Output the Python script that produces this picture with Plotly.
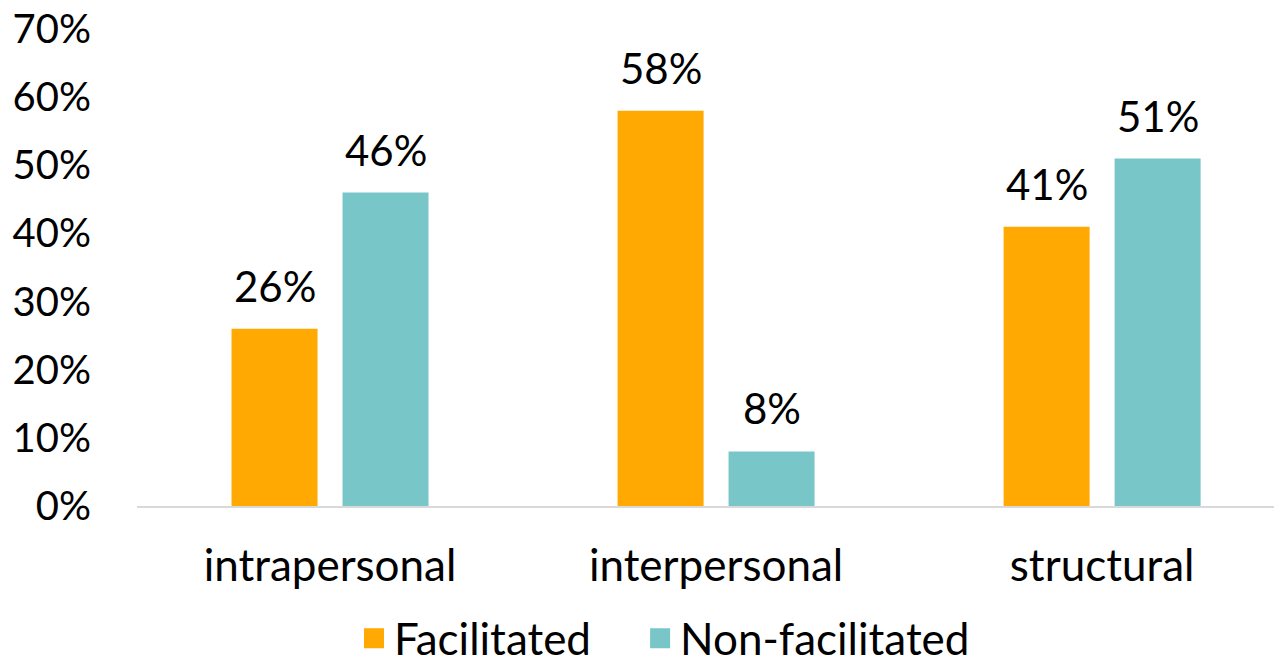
import plotly.graph_objects as go

categories = ["intrapersonal", "interpersonal", "structural"]
facilitated = [0.26, 0.58, 0.41]
non_facilitated = [0.46, 0.08, 0.51]
series_names = ["Facilitated", "Non-facilitated"]
tick_vals = [0, 0.1, 0.2, 0.3, 0.4, 0.5, 0.6, 0.7]

ORANGE = "#FFA902"
TEAL = "#79C6C9"
FONT = "Lato"

fig = go.Figure()
for name, vals, col, leg in [(series_names[0], facilitated, ORANGE, "legend"),
                             (series_names[1], non_facilitated, TEAL, "legend2")]:
    fig.add_trace(go.Bar(x=categories, y=vals, name=name, marker=dict(color=col, line=dict(width=0)),
                         showlegend=False))
    fig.add_trace(go.Scatter(x=[None], y=[None], mode="markers", name=name, legend=leg,
                             marker=dict(symbol="square", size=23, color=col,
                                         line=dict(color=col, width=4)),
                             showlegend=True))

annotations = []
for vals, shift in [(facilitated, -55.5), (non_facilitated, 55.5)]:
    for c, v in zip(categories, vals):
        annotations.append(dict(x=c, y=v, xref="x", yref="y", text=f"{round(v*100)}%",
                                showarrow=False, xshift=shift, yshift=16, yanchor="bottom",
                                font=dict(family=FONT, size=42, color="#000000")))

legend_common = dict(orientation="h", xanchor="left", y=-0.278, yanchor="middle",
                     font=dict(family=FONT, size=44, color="#000000"), itemsizing="trace",
                     bgcolor="rgba(0,0,0,0)")

# page body has an 8px margin, so the figure is sized/offset accordingly
fig.update_layout(
    width=1274, height=654,
    margin=dict(l=129, r=0, t=21, b=156, autoexpand=False),
    paper_bgcolor="white", plot_bgcolor="white",
    barmode="group", bargap=0.425, bargroupgap=0.225,
    font=dict(family=FONT, size=40, color="#000000"),
    annotations=annotations,
    legend=dict(x=0.1895, **legend_common),
    legend2=dict(x=0.4394, **legend_common),
    xaxis=dict(range=[-0.5, 2.466], showline=True, linecolor="#D9D9D9", linewidth=1.5,
               showgrid=False, ticks="", ticklabelstandoff=20, zeroline=False, automargin=False,
               tickfont=dict(family=FONT, size=44, color="#000000")),
    yaxis=dict(range=[0, 0.7001], tickvals=tick_vals, tickformat=".0%", showgrid=False,
               showline=False, zeroline=False, ticks="", ticklabelstandoff=45, automargin=False,
               ticklabeloverflow="allow",
               tickfont=dict(family=FONT, size=40, color="#000000")),
)

fig.write_html("out.html")
